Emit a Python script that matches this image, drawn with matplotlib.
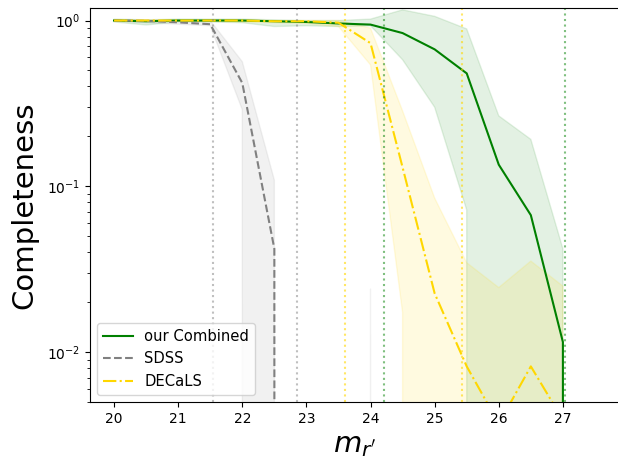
import matplotlib
matplotlib.use("Agg")
import matplotlib.pyplot as plt
import numpy as np

# magnitude bins
mag = [20.0, 20.5, 21.0, 21.5, 22.0, 22.5, 23.0, 23.5, 24.0, 24.5, 25.0, 25.5, 26.0, 26.5, 27.0, 27.5]

# our Combined
comb = [1.0, 0.99, 1.0, 1.0, 1.0, 0.99, 0.98, 0.96, 0.945, 0.84, 0.67, 0.48, 0.135, 0.067, 0.0115, 0.0]
comb_hi = [1.02, 1.01, 1.02, 1.02, 1.02, 1.01, 1.0, 1.0, 1.02, 1.16, 1.06, 0.89, 0.266, 0.192, 0.042, 0.0]
comb_lo = [0.98, 0.94, 0.98, 0.98, 0.97, 0.92, 0.93, 0.92, 0.93, 0.58, 0.30, 0.072, 0.0, 0.0, 0.0, 0.0]

# SDSS
sdss = [1.0, 0.995, 0.975, 0.95, 0.42, 0.042, 0.0, 0.0, 0.0, 0.0, 0.0, 0.0, 0.0, 0.0, 0.0, 0.0]
sdss_hi = [1.01, 1.01, 1.0, 1.0, 0.565, 0.109, 0.0, 0.0, 0.024, 0.0, 0.0, 0.0, 0.0, 0.0, 0.0, 0.0]
sdss_lo = [0.99, 0.97, 0.95, 0.93, 0.29, 0.0, 0.0, 0.0, 0.0, 0.0, 0.0, 0.0, 0.0, 0.0, 0.0, 0.0]

# DECaLS
dec = [1.0, 1.0, 1.0, 1.0, 1.0, 0.99, 0.99, 0.97, 0.73, 0.13, 0.0226, 0.0082, 0.0037, 0.0082, 0.0039, 0.0]
dec_hi = [1.01, 1.01, 1.01, 1.01, 1.01, 1.0, 1.0, 1.0, 0.90, 0.285, 0.085, 0.0346, 0.0245, 0.0354, 0.025, 0.0]
dec_lo = [0.99, 0.99, 0.99, 0.99, 0.98, 0.97, 0.96, 0.92, 0.54, 0.0173, 0.0, 0.0, 0.0, 0.0, 0.0, 0.0]

# limiting magnitudes (vertical dotted lines)
sdss_lims = [21.54, 22.86]
dec_lims = [23.6, 25.43]
comb_lims = [24.21, 27.03]

fig = plt.figure(figsize=(6.18, 4.58), dpi=100)
ax = fig.add_axes([90 / 618, 56 / 458, 529 / 618, 394 / 458])
ax.set_yscale('log')

ax.fill_between(mag, comb_lo, comb_hi, color='green', alpha=0.11)
ax.fill_between(mag, sdss_lo, sdss_hi, color='grey', alpha=0.11)
ax.fill_between(mag, dec_lo, dec_hi, color='gold', alpha=0.12)

ax.plot(mag, comb, color='green', ls='-', lw=1.5, label='our Combined')
ax.plot(mag, sdss, color='grey', ls='--', lw=1.5, label='SDSS')
ax.plot(mag, dec, color='gold', ls='-.', lw=1.5, label='DECaLS')

for v in sdss_lims:
    ax.axvline(v, color='grey', ls=':', alpha=0.5, lw=1.5)
for v in dec_lims:
    ax.axvline(v, color='gold', ls=':', alpha=0.6, lw=1.5)
for v in comb_lims:
    ax.axvline(v, color='green', ls=':', alpha=0.5, lw=1.5)

ax.set_xlim(19.625, 27.875)
ax.set_ylim(0.005, 1.19)
ax.set_xticks([20, 21, 22, 23, 24, 25, 26, 27])
ax.set_xlabel(r"$m_{r'}$", fontsize=21)
ax.set_ylabel("Completeness", fontsize=21, labelpad=6)
ax.legend(loc='lower left', fontsize=10.6)

fig.savefig("out.png", dpi=100)
